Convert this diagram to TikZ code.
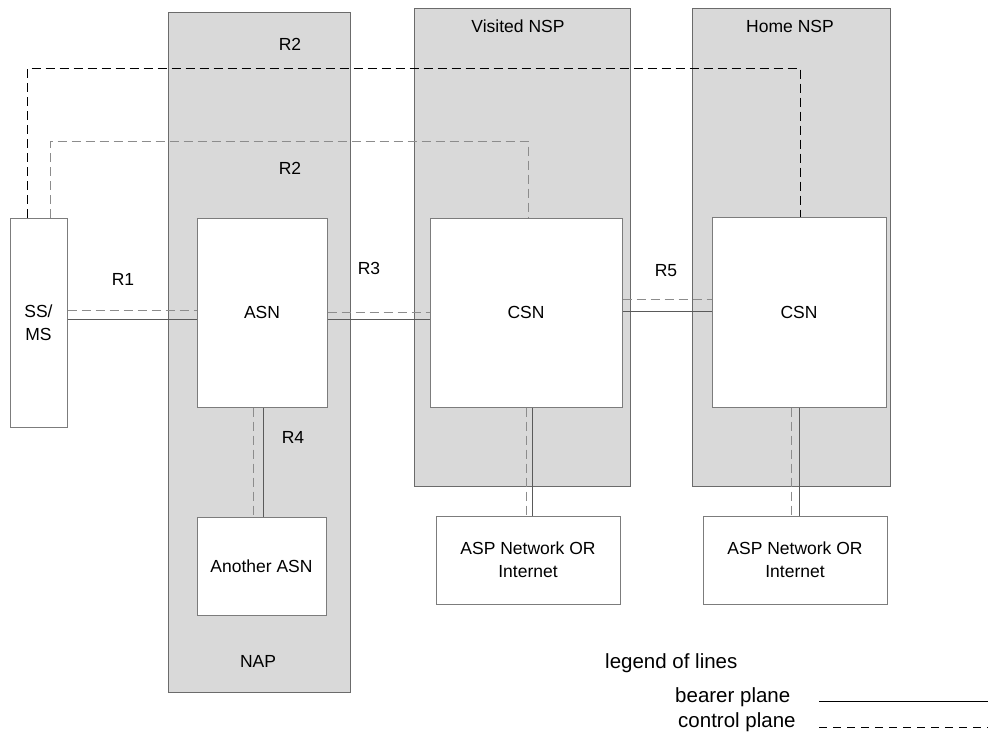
\documentclass[tikz,border=0pt]{standalone}
\usepackage{fontspec}
\setmainfont{Liberation Sans}
\usepackage{xcolor}
\usepackage{tikz}

\definecolor{zonefill}{HTML}{D9D9D9}
\definecolor{zoneline}{HTML}{6B6B6B}
\definecolor{boxline}{HTML}{7C7C7C}
\definecolor{ctrlgray}{HTML}{8C8C8C}
\definecolor{bearerline}{HTML}{5A5A5A}

\tikzset{
  zone/.style={draw=zoneline, fill=zonefill, line width=1pt, inner sep=0pt},
  unit/.style={draw=boxline, fill=white, line width=1pt, inner sep=0pt, align=center},
  bearer/.style={draw=bearerline, line width=1pt},
  ctrl/.style={draw=ctrlgray, line width=1pt, dash pattern=on 9pt off 5pt},
  ctrldark/.style={draw=black, line width=1pt, dash pattern=on 9pt off 5pt},
  lbl/.style={inner sep=0pt, font=\fontsize{17.5}{23}\selectfont, align=center},
  legendtxt/.style={inner sep=0pt, anchor=base west, font=\fontsize{20.5}{24}\selectfont}
}

\begin{document}
\begin{tikzpicture}[x=1pt, y=-1pt]

\useasboundingbox (0,0) rectangle (989,736);

% Network areas
\node[zone, minimum width=182, minimum height=680] (nap) at (259,352) {};
\node[zone, minimum width=216, minimum height=478] (vnsp) at (522,247) {};
\node[zone, minimum width=198, minimum height=478] (hnsp) at (791,247) {};
\node[lbl] (naplbl) at (258,661) {NAP};
\node[lbl] (vnsplbl) at (518,26) {Visited NSP};
\node[lbl] (hnsplbl) at (790,26) {Home NSP};

% Functional entities
\node[unit, minimum width=57, minimum height=209, lbl] (ss) at (38.5,322.5) {SS/\\MS};
\node[unit, minimum width=130, minimum height=189, lbl] (asn) at (262,312.5) {ASN};
\node[unit, minimum width=129, minimum height=98, lbl] (another) at (261.5,566) {Another ASN};
\node[unit, minimum width=192, minimum height=189, lbl] (vcsn) at (526,312.5) {CSN};
\node[unit, minimum width=174, minimum height=190, lbl] (hcsn) at (799,312) {CSN};
\node[unit, minimum width=184, minimum height=88, lbl] (vasp) at (528,560) {ASP Network OR\\Internet};
\node[unit, minimum width=184, minimum height=88, lbl] (hasp) at (795,560) {ASP Network OR\\Internet};

% R2 control paths over the NAP
\draw[ctrldark] (ss.north -| 27,0) |- (800,68) -- (hcsn.north -| 800,0);
\draw[ctrl] (ss.north -| 50,0) |- (528,141) -- (vcsn.north -| 528,0);

% Horizontal reference points
\draw[ctrl] (ss.east |- 0,310) -- (asn.west |- 0,310);
\draw[bearer] (ss.east |- 0,319) -- (asn.west |- 0,319);
\draw[ctrl] (asn.east |- 0,312) -- (vcsn.west |- 0,312);
\draw[bearer] (asn.east |- 0,319) -- (vcsn.west |- 0,319);
\draw[ctrl] (vcsn.east |- 0,299) -- (hcsn.west |- 0,299);
\draw[bearer] (vcsn.east |- 0,311) -- (hcsn.west |- 0,311);

% Vertical links
\foreach \up/\dn/\xd/\xs in {asn/another/253/263, vcsn/vasp/526/532, hcsn/hasp/791/799} {
    \draw[ctrl] (\up.south -| \xd,0) -- (\dn.north -| \xd,0);
    \draw[bearer] (\up.south -| \xs,0) -- (\dn.north -| \xs,0);
}

% Reference point labels
\node[lbl] (r1) at (123,279) {R1};
\node[lbl] (r2a) at (290,44) {R2};
\node[lbl] (r2b) at (290,168) {R2};
\node[lbl] (r3) at (369,268) {R3};
\node[lbl] (r4) at (293,437) {R4};
\node[lbl] (r5) at (666,271) {R5};

% Legend
\node[legendtxt] (legend) at (605,668) {legend of lines};
\node[legendtxt] (bearerlbl) at (675,702) {bearer plane};
\node[legendtxt] (ctrllbl) at (678,727) {control plane};
\coordinate (bstart) at (819,701);
\coordinate (bend) at (988,701);
\coordinate (cstart) at (819,727);
\coordinate (cend) at (988,727);
\draw[black, line width=1pt] (bstart) -- (bend);
\draw[black, line width=1pt, dash pattern=on 8pt off 6pt] (cstart) -- (cend);

\end{tikzpicture}
\end{document}
